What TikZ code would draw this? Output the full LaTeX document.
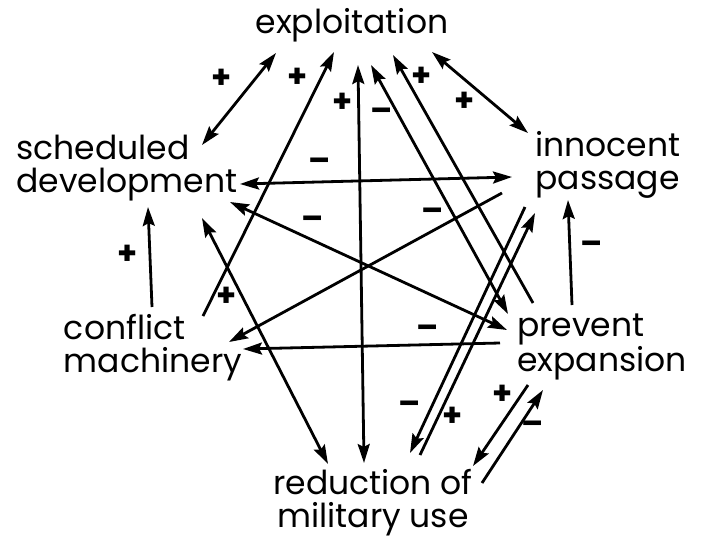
\documentclass[tikz,border=0pt]{standalone}
\usepackage{fontspec}
\setmainfont{Poppins}
\usetikzlibrary{arrows.meta}

\begin{document}
\begin{tikzpicture}[x=1pt, y=-1pt, line width=2.8pt,
    term/.style={inner sep=0pt, font=\fontsize{33}{33}\selectfont},
    sign/.style={inner sep=0pt, font=\bfseries\fontsize{32}{32}\selectfont},
    one/.style={-{Stealth[length=19pt,width=12pt,inset=3pt]}},
    two/.style={{Stealth[length=19pt,width=12pt,inset=3pt]}-{Stealth[length=19pt,width=12pt,inset=3pt]}}]
    \useasboundingbox (0,0) rectangle (709,544);
    \node[term] (expl) at (352,25) {exploitation};
    \node[term, align=left] (sched) at (127,168) {scheduled\\development};
    \node[term, align=left] (inno) at (608,165) {innocent\\passage};
    \node[term, align=left] (conf) at (153,348) {conflict\\machinery};
    \node[term, align=left] (prev) at (602,347) {prevent\\expansion};
    \node[term, align=center] (red) at (373,503) {reduction of\\military use};

    \draw[two] ([shift={(-76,28)}]expl.center) -- ([shift={(75,-23)}]sched.center);
    \draw[one] ([shift={(50,-32)}]conf.center) -- ([shift={(-18,27)}]expl.center);
    \draw[two] ([shift={(6,40)}]expl.center) -- ([shift={(-9,-40)}]red.center);
    \draw[two] ([shift={(19,40)}]expl.center) -- ([shift={(-94,-33)}]prev.center);
    \draw[one] ([shift={(-69,-44)}]prev.center) -- ([shift={(41,30)}]expl.center);
    \draw[two] ([shift={(80,27)}]expl.center) -- ([shift={(-80,-32)}]inno.center);
    \draw[two] ([shift={(113,16)}]sched.center) -- ([shift={(-96,12)}]inno.center);
    \draw[one] ([shift={(-106,28)}]inno.center) -- ([shift={(76,-6)}]conf.center);
    \draw[two] ([shift={(103,34)}]sched.center) -- ([shift={(-95,-17)}]prev.center);
    \draw[one] ([shift={(-102,-4)}]prev.center) -- ([shift={(90,1)}]conf.center);
    \draw[one] ([shift={(-1,-41)}]conf.center) -- ([shift={(21,39)}]sched.center);
    \draw[two] ([shift={(75,50)}]sched.center) -- ([shift={(-45,-39)}]red.center);
    \draw[one] ([shift={(-83,42)}]inno.center) -- ([shift={(37,-50)}]red.center);
    \draw[one] ([shift={(47,-48)}]red.center) -- ([shift={(-73,48)}]inno.center);
    \draw[one] ([shift={(-30,-42)}]prev.center) -- ([shift={(-40,35)}]inno.center);
    \draw[one] ([shift={(-74,38)}]prev.center) -- ([shift={(100,-37)}]red.center);
    \draw[one] ([shift={(109,-20)}]red.center) -- ([shift={(-59,43)}]prev.center);

    \foreach \p/\s [count=\i] in {{222,79}/+, {298,78}/+, {343,103}/+, {382,115}/--,
        {422,77}/+, {465,102}/+, {320,165}/--, {433,215}/--, {313,223}/--,
        {428,332}/--, {128,255}/+, {227,297}/+, {410,408}/--, {453,417}/+,
        {592,248}/--, {503,395}/+, {533,428}/--}
        \node[sign] (sg\i) at (\p) {\s};
\end{tikzpicture}
\end{document}
